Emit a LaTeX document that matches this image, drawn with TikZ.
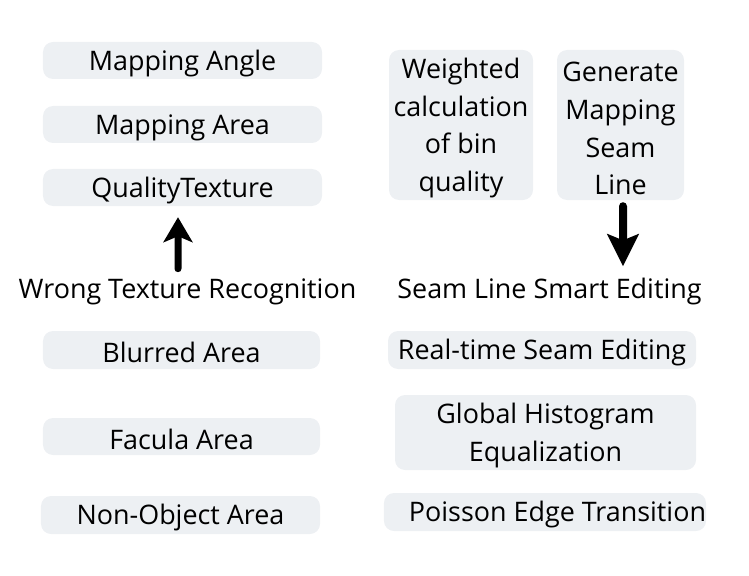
\documentclass[tikz,border=0pt]{standalone}
\usepackage{fontspec}
\setmainfont{Open Sans}
\usetikzlibrary{positioning,arrows.meta}
\definecolor{tagfill}{HTML}{EDF0F3}
\newcommand{\lowstrut}{\rule{0pt}{26.5bp}}
\tikzset{
  tag/.style={fill=tagfill,rounded corners=10bp,align=center,inner sep=0pt,
    font=\fontsize{27}{38}\selectfont,execute at begin node=\rule{0pt}{0.95em}},
  heading/.style={inner sep=0pt,font=\fontsize{27}{38}\selectfont},
  uparrow/.style={-{Stealth[width=29bp,length=25bp,inset=6bp]},line width=7bp,line cap=round},
  downarrow/.style={-{Stealth[width=31bp,length=32bp,inset=6bp]},line width=8bp,line cap=round}
}
\begin{document}
\begin{tikzpicture}[x=1bp,y=-1bp]
    \useasboundingbox (0,0) rectangle (749,576);
    % left column
    \node[tag,minimum width=279bp,minimum height=37bp] (angle) at (182.5,60.5) {Mapping Angle};
    \node[tag,minimum width=279bp,minimum height=37bp] (area) at (182.5,124.5) {Mapping Area};
    \node[tag,minimum width=279bp,minimum height=37bp] (quality) at (182.5,187.5) {QualityTexture};
    \node[heading] (wrong) at (187.5,292) {Wrong Texture Recognition};
    \node[tag,minimum width=277bp,minimum height=38bp] (blur) at (181.5,350) {Blurred Area};
    \node[tag,minimum width=277bp,minimum height=37bp] (facula) at (181.5,436.5) {Facula Area};
    \node[tag,minimum width=279bp,minimum height=38bp] (nonobj) at (180.5,515) {Non-Object Area};
    % right column
    \node[tag,minimum width=144bp,minimum height=150bp] (weight) at (461,125) {\lowstrut Weighted\\calculation\\of bin\\quality};
    \node[tag,minimum width=127bp,minimum height=150bp] (seam) at (620.5,125) {\lowstrut Generate\\Mapping\\Seam\\Line};
    \node[heading] (smart) at (549.5,292) {Seam Line Smart Editing};
    \node[tag,minimum width=308bp,minimum height=38bp] (realtime) at (542,350) {Real-time Seam Editing};
    \node[tag,minimum width=301bp,minimum height=75bp] (histo) at (545.5,432.5) {\lowstrut Global Histogram\\Equalization};
    \node[tag,minimum width=322bp,minimum height=38bp] (poisson) at (545,512) {\hspace*{25bp}Poisson Edge Transition};
    % arrows
    \draw[uparrow,shorten <=10bp,shorten >=11bp] ([xshift=-9.5bp]wrong.north) -- ([xshift=-4.5bp]quality.south);
    \draw[downarrow,shorten <=6bp,shorten >=12bp] ([xshift=2.5bp]seam.south) -- ([xshift=73.5bp]smart.north);
\end{tikzpicture}
\end{document}
